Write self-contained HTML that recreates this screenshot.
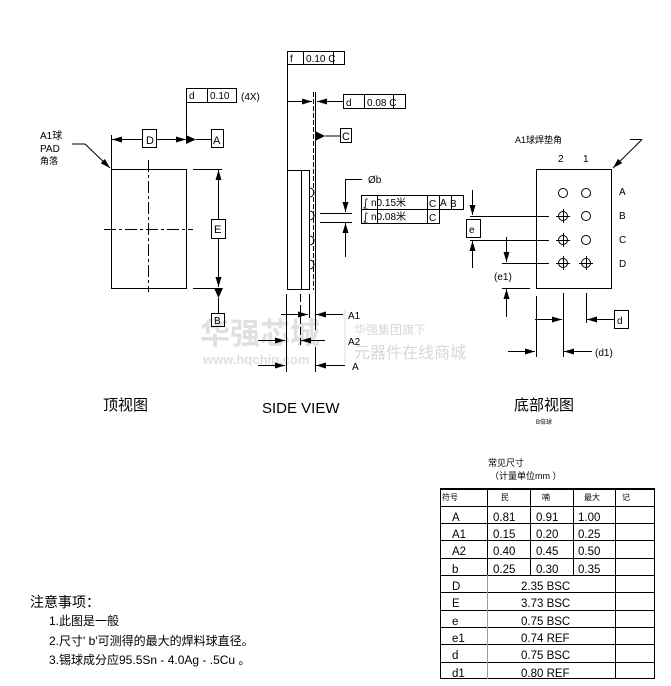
<!DOCTYPE html>
<html><head><meta charset="utf-8"><style>
html,body{margin:0;padding:0;background:#fff;}
svg{display:block;}
text{font-family:"Liberation Sans","Noto Sans CJK SC",sans-serif;fill:#000;}
</style></head><body>
<svg width="671" height="686" viewBox="0 0 671 686" xmlns="http://www.w3.org/2000/svg">
<defs>
<marker id="ar" viewBox="0 0 10 6" refX="10" refY="3" markerWidth="10" markerHeight="6" markerUnits="userSpaceOnUse" orient="auto"><path d="M0,0L10,3L0,6z" fill="#000"/></marker>
</defs>
<!-- watermark -->
<g fill="#ddd" style="fill:#ddd">
<text x="200" y="344" font-size="30" font-weight="bold" style="fill:#e0e0e0">华强芯城</text>
<text x="203" y="364" font-size="13" font-weight="bold" style="fill:#e0e0e0">www.hqchip.com</text>
<text x="354" y="334" font-size="12" style="fill:#d8d8d8">华强集团旗下</text>
<text x="354" y="358" font-size="16" style="fill:#d8d8d8">元器件在线商城</text>
</g>
<line x1="345" y1="310" x2="345" y2="362" stroke="#ddd"/>
<g stroke="#000" stroke-width="1" fill="none">
<!-- top view -->
<rect x="111.5" y="169.5" width="75" height="119"/>
<line x1="148.5" y1="160" x2="148.5" y2="292" stroke-dasharray="12,3,3,3"/>
<line x1="104" y1="229.5" x2="193" y2="229.5" stroke-dasharray="12,3,3,3"/>
<line x1="111.5" y1="135" x2="111.5" y2="169"/>
<line x1="186.5" y1="88" x2="186.5" y2="135"/>
<line x1="142" y1="139.5" x2="112" y2="139.5" marker-end="url(#ar)"/>
<line x1="157" y1="139.5" x2="186" y2="139.5" marker-end="url(#ar)"/>
<rect x="142.5" y="129.5" width="14" height="18"/>
<line x1="196" y1="139.5" x2="211" y2="139.5"/>
<rect x="211.5" y="129.5" width="12" height="18"/>
<rect x="186.5" y="88.5" width="50" height="14"/><line x1="207.5" y1="88" x2="207.5" y2="102"/>
<line x1="193" y1="169.5" x2="222" y2="169.5"/>
<line x1="193" y1="288.5" x2="222" y2="288.5"/>
<line x1="218.5" y1="219" x2="218.5" y2="170" marker-end="url(#ar)"/>
<line x1="218.5" y1="238" x2="218.5" y2="287" marker-end="url(#ar)"/>
<rect x="211.5" y="219.5" width="14" height="19"/>
<line x1="218.5" y1="298" x2="218.5" y2="313"/>
<rect x="211.5" y="313.5" width="13" height="13"/>
<polyline points="72,144 85,144"/>
<line x1="85" y1="144" x2="110" y2="168" marker-end="url(#ar)"/>
<!-- side view -->
<rect x="287.5" y="170.5" width="14" height="119"/>
<rect x="301.5" y="170.5" width="8" height="119"/>
<path d="M309.5,188a4.5,4.5 0 0 1 0,9M309.5,211a4.5,4.5 0 0 1 0,9M309.5,236a4.5,4.5 0 0 1 0,9M309.5,260a4.5,4.5 0 0 1 0,9"/>
<line x1="313.5" y1="92" x2="313.5" y2="290" stroke-dasharray="5,2"/>
<line x1="315.5" y1="92" x2="315.5" y2="330"/>
<line x1="315.5" y1="347" x2="315.5" y2="372"/>
<line x1="287.5" y1="51" x2="287.5" y2="170"/>
<rect x="287.5" y="51.5" width="57" height="13"/><line x1="303.5" y1="51" x2="303.5" y2="64"/><line x1="333.5" y1="51" x2="333.5" y2="64"/>
<line x1="287" y1="101.5" x2="312" y2="101.5" marker-end="url(#ar)"/>
<line x1="343" y1="101.5" x2="317" y2="101.5" marker-end="url(#ar)"/>
<rect x="343.5" y="94.5" width="62" height="14"/><line x1="364.5" y1="94" x2="364.5" y2="108"/><line x1="393.5" y1="94" x2="393.5" y2="108"/>
<line x1="325" y1="136" x2="340" y2="136"/>
<rect x="340.5" y="128.5" width="11" height="14"/>
<polyline points="362,179.5 345.5,179.5 345.5,212"/>
<line x1="345.5" y1="200" x2="345.5" y2="212" marker-end="url(#ar)"/>
<line x1="345.5" y1="257" x2="345.5" y2="223" marker-end="url(#ar)"/>
<line x1="320" y1="213.5" x2="352" y2="213.5"/>
<line x1="320" y1="222.5" x2="352" y2="222.5"/>
<rect x="361.5" y="195.5" width="102" height="14"/>
<polyline points="361.5,209.5 361.5,223.5 439.5,223.5 439.5,209.5"/>
<line x1="377.5" y1="195" x2="377.5" y2="223"/><line x1="427.5" y1="195" x2="427.5" y2="223"/><line x1="439.5" y1="195" x2="439.5" y2="209"/><line x1="451.5" y1="195" x2="451.5" y2="209"/>
<line x1="286.5" y1="294" x2="286.5" y2="372"/>
<line x1="300.5" y1="294" x2="300.5" y2="345" stroke-dasharray="8,3"/>
<line x1="309.5" y1="294" x2="309.5" y2="318"/>
<line x1="281" y1="314.5" x2="308" y2="314.5" marker-end="url(#ar)"/>
<line x1="343" y1="314.5" x2="316" y2="314.5" marker-end="url(#ar)"/>
<line x1="258" y1="340.5" x2="285" y2="340.5" marker-end="url(#ar)"/>
<line x1="325" y1="340.5" x2="301" y2="340.5" marker-end="url(#ar)"/>
<line x1="258" y1="365.5" x2="285" y2="365.5" marker-end="url(#ar)"/>
<line x1="345" y1="365.5" x2="316" y2="365.5" marker-end="url(#ar)"/>
<!-- bottom view -->
<rect x="536.5" y="169.5" width="75" height="119"/>
<circle cx="563" cy="193" r="4.5"/><circle cx="586" cy="193" r="4.5"/>
<circle cx="563" cy="216" r="4.5"/><circle cx="586" cy="216" r="4.5"/>
<circle cx="563" cy="240" r="4.5"/><circle cx="586" cy="240" r="4.5"/>
<circle cx="563" cy="263" r="4.5"/><circle cx="586" cy="263" r="4.5"/>
<path d="M556,216.5h14M563.5,209v14M556,240.5h14M563.5,233v14M556,263.5h14M563.5,256v14M579,263.5h14M586.5,256v14"/>
<polyline points="630,139.5 642,139.5"/>
<line x1="642" y1="139.5" x2="613" y2="168" marker-end="url(#ar)"/>
<line x1="470" y1="216.5" x2="549" y2="216.5"/>
<line x1="470" y1="240.5" x2="549" y2="240.5"/>
<rect x="466.5" y="219.5" width="14" height="18"/>
<line x1="472.5" y1="190" x2="472.5" y2="215" marker-end="url(#ar)"/>
<line x1="472.5" y1="268" x2="472.5" y2="241" marker-end="url(#ar)"/>
<line x1="502" y1="263.5" x2="549" y2="263.5"/>
<line x1="502" y1="288.5" x2="530" y2="288.5"/>
<line x1="506.5" y1="237" x2="506.5" y2="262" marker-end="url(#ar)"/>
<line x1="506.5" y1="317" x2="506.5" y2="289" marker-end="url(#ar)"/>
<line x1="563.5" y1="293" x2="563.5" y2="357"/>
<line x1="586.5" y1="293" x2="586.5" y2="323"/>
<line x1="536.5" y1="296" x2="536.5" y2="357"/>
<line x1="535" y1="319.5" x2="562" y2="319.5" marker-end="url(#ar)"/>
<line x1="614" y1="319.5" x2="587" y2="319.5" marker-end="url(#ar)"/>
<rect x="614.5" y="310.5" width="14" height="18"/>
<line x1="508" y1="351.5" x2="535" y2="351.5" marker-end="url(#ar)"/>
<line x1="592" y1="351.5" x2="564" y2="351.5" marker-end="url(#ar)"/>
<!-- table -->
<line x1="440" y1="489" x2="655" y2="489" stroke-width="2"/>
<rect x="440.5" y="489.5" width="214" height="189"/>
<path d="M440,506.5h215M440,523.5h215M440,540.5h215M440,558.5h215M440,575.5h215M440,592.5h215M440,610.5h215M440,627.5h215M440,644.5h215M440,662.5h215"/>
<path d="M487.5,489v89M530.5,489v86M573.5,489v86M615.5,489v190"/>
<line x1="487.5" y1="575" x2="487.5" y2="679" stroke="#999"/>
</g>
<polygon points="186,135 196,139.5 186,144" fill="#000"/>
<polygon points="214,288 223,288 218.5,298" fill="#000"/>
<polygon points="315,131 325,136 315,141" fill="#000"/>
<!-- texts -->
<g font-size="10">
<text x="40" y="139">A1球</text><text x="40" y="152">PAD</text><text x="40" y="164" font-size="9">角落</text>
<text x="146" y="144" font-size="11">D</text>
<text x="213" y="144" font-size="11">A</text>
<text x="189" y="99">d</text><text x="210" y="99">0.10</text><text x="241" y="100">(4X)</text>
<text x="214" y="233" font-size="11">E</text>
<text x="214" y="324">B</text>
<text x="290" y="62">f</text><text x="306" y="62">0.10 C</text>
<text x="346" y="106">d</text><text x="367" y="106">0.08 C</text>
<text x="342" y="140" font-size="11">C</text>
<text x="368" y="183">Øb</text>
<text x="363" y="206">⨜ n0.15米</text><text x="429" y="207">C</text><text x="440" y="206">A</text><text x="450" y="207">B</text>
<text x="363" y="220">⨜ n0.08米</text><text x="429" y="221">C</text>
<text x="348" y="319">A1</text><text x="348" y="345">A2</text><text x="352" y="370">A</text>
<text x="515" y="143" font-size="9">A1球焊垫角</text>
<text x="558" y="162">2</text><text x="583" y="162">1</text>
<text x="619" y="195">A</text><text x="619" y="219">B</text><text x="619" y="243">C</text><text x="619" y="267">D</text>
<text x="469" y="233">e</text>
<text x="494" y="280">(e1)</text>
<text x="617" y="324">d</text>
<text x="595" y="356">(d1)</text>
</g>
<text x="103" y="410" font-size="15">顶视图</text>
<text x="262" y="413" font-size="15">SIDE VIEW</text>
<text x="514" y="410" font-size="15">底部视图</text>
<text x="536" y="424" font-size="6">B倍球</text>
<text x="30" y="607" font-size="14">注意事项：</text>
<text x="49" y="625" font-size="12">1.此图是一般</text>
<text x="49" y="645" font-size="12">2.尺寸' b'可测得的最大的焊料球直径。</text>
<text x="49" y="664" font-size="12">3.锡球成分应95.5Sn - 4.0Ag - .5Cu 。</text>
<text x="488" y="466" font-size="9">常见尺寸</text>
<text x="490" y="479" font-size="9">（计量单位mm ）</text>
<g font-size="8"><text x="442" y="500">符号</text><text x="501" y="500">民</text><text x="542" y="500">喃</text><text x="584" y="500">最大</text><text x="622" y="500">记</text></g>
<g font-size="11.5">
<text x="452" y="521">A</text><text x="493" y="521">0.81</text><text x="536" y="521">0.91</text><text x="578" y="521">1.00</text>
<text x="452" y="538">A1</text><text x="493" y="538">0.15</text><text x="536" y="538">0.20</text><text x="578" y="538">0.25</text>
<text x="452" y="555">A2</text><text x="493" y="555">0.40</text><text x="536" y="555">0.45</text><text x="578" y="555">0.50</text>
<text x="452" y="573">b</text><text x="493" y="573">0.25</text><text x="536" y="573">0.30</text><text x="578" y="573">0.35</text>
<text x="452" y="590">D</text><text x="521" y="590">2.35 BSC</text>
<text x="452" y="607">E</text><text x="521" y="607">3.73 BSC</text>
<text x="452" y="625">e</text><text x="521" y="625">0.75 BSC</text>
<text x="452" y="642">e1</text><text x="521" y="642">0.74 REF</text>
<text x="452" y="659">d</text><text x="521" y="659">0.75 BSC</text>
<text x="452" y="677">d1</text><text x="521" y="677">0.80 REF</text>
</g>
</svg>
</body></html>
